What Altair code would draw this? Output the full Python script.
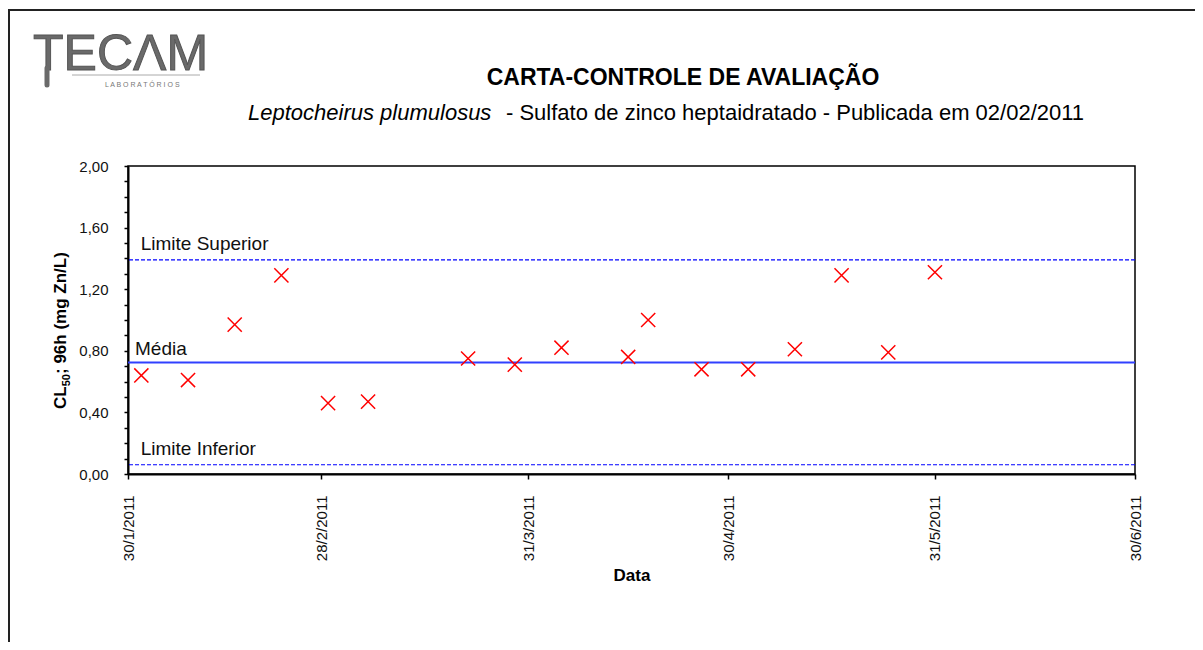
import altair as alt
import pandas as pd

# ---------------- data ----------------
sample_dates = ["2011-02-01", "2011-02-08", "2011-02-15", "2011-02-22", "2011-03-01",
                "2011-03-07", "2011-03-22", "2011-03-29", "2011-04-05", "2011-04-15",
                "2011-04-18", "2011-04-26", "2011-05-03", "2011-05-10", "2011-05-17",
                "2011-05-24", "2011-05-31"]
cl50_values = [0.64, 0.61, 0.97, 1.29, 0.46, 0.47, 0.75, 0.71, 0.82, 0.76,
               1.00, 0.68, 0.68, 0.81, 1.29, 0.79, 1.31]

limit_labels = ["Limite Superior", "Média", "Limite Inferior"]
limit_values = [1.39, 0.724, 0.06]

x_tick_dates = [(2011, 1, 30), (2011, 2, 28), (2011, 3, 31), (2011, 4, 30), (2011, 5, 31), (2011, 6, 30)]
y_tick_values = [0.0, 0.1, 0.2, 0.3, 0.4, 0.5, 0.6, 0.7, 0.8, 0.9, 1.0,
                 1.1, 1.2, 1.3, 1.4, 1.5, 1.6, 1.7, 1.8, 1.9, 2.0]

title_text = "CARTA-CONTROLE DE  AVALIAÇÃO"
subtitle_species = "Leptocheirus plumulosus"
subtitle_rest = "- Sulfato de zinco heptaidratado  - Publicada  em 02/02/2011"
y_title_parts = ["CL", "50", "; 96h (mg Zn/L)"]
x_title = "Data"
logo_text = "TECΛM"
logo_sub = "L A B O R A T Ó R I O S"

# ---------------- layout ----------------
W, H = 1007, 308
PAD_L, PAD_T, PAD_R, PAD_B = 120, 158, 60, 168
FONT = "Liberation Sans"

points_df = pd.DataFrame({"Data": sample_dates, "CL50": cl50_values})
limits_df = pd.DataFrame({"nome": limit_labels, "valor": limit_values})
one = pd.DataFrame({"k": [0]})


def dt(t):
    return alt.DateTime(year=t[0], month=t[1], date=t[2], utc=True)


x_scale = alt.Scale(type="utc", domain=[dt(x_tick_dates[0]), dt(x_tick_dates[-1])])
y_scale = alt.Scale(domain=[0, 2], nice=False, zero=False)

y_axis = alt.Axis(
    values=y_tick_values,
    labelExpr="(round(datum.value*10) % 4 == 0) ? replace(format(datum.value, '.2f'), '.', ',') : ''",
    title=None, grid=False, tickSize=4, tickColor="black", tickWidth=1.5,
    domainColor="black", domainWidth=2, labelFont=FONT, labelFontSize=15,
    labelColor="#111", labelPadding=16, labelOverlap=False, labelFlush=False,
)
x_axis = alt.Axis(
    values=[dt(t) for t in x_tick_dates],
    labelExpr="utcFormat(datum.value, '%-d/%-m/%Y')",
    labelAngle=270, labelAlign="right", labelBaseline="middle",
    title=x_title, titleFont=FONT, titleFontSize=17, titleFontWeight="bold",
    titleColor="black", titlePadding=7,
    grid=False, tickSize=5, tickColor="black", tickWidth=1.5,
    domainColor="black", domainWidth=2, labelFont=FONT, labelFontSize=15,
    labelColor="#111", labelPadding=16, labelOverlap=False, labelFlush=False,
)


def Y(field):
    return alt.Y(field, scale=y_scale, axis=y_axis)


# outer frame (only left and top edges are visible in the page), kept inside the svg
frame_left = alt.Chart(one).mark_rule(color="#222", strokeWidth=2).encode(
    x=alt.value(-119), y=alt.value(-157), y2=alt.value(H + PAD_B))
frame_top = alt.Chart(one).mark_rule(color="#222", strokeWidth=2).encode(
    x=alt.value(-120), x2=alt.value(W + PAD_R), y=alt.value(-156))

# logo
logo = alt.Chart(one).mark_text(text=logo_text, font=FONT, fontSize=50, color="#6a6a6a",
                                stroke="#555", strokeWidth=1, align="left",
                                baseline="alphabetic").encode(
    x=alt.value(-95), y=alt.value(-96))
logo_stem = alt.Chart(one).mark_rule(color="#6a6a6a", strokeWidth=5, strokeCap="round").encode(
    x=alt.value(-81), y=alt.value(-98), y2=alt.value(-81))
logo_line = alt.Chart(one).mark_rule(color="#aaa", strokeWidth=1).encode(
    x=alt.value(-56), x2=alt.value(72), y=alt.value(-91))
logo_small = alt.Chart(one).mark_text(text=logo_sub, font=FONT, fontSize=7, color="#777",
                                      align="left", baseline="alphabetic").encode(
    x=alt.value(-23), y=alt.value(-79))

# titles
title = alt.Chart(one).mark_text(text=title_text, font=FONT, fontSize=23, fontWeight="bold",
                                 color="black", align="center", baseline="alphabetic").encode(
    x=alt.value(555), y=alt.value(-81))
sub1 = alt.Chart(one).mark_text(text=subtitle_species, font=FONT, fontSize=22, fontStyle="italic",
                                color="black", align="left", baseline="alphabetic").encode(
    x=alt.value(248 - 128), y=alt.value(-46))
sub2 = alt.Chart(one).mark_text(text=subtitle_rest, font=FONT, fontSize=22,
                                color="black", align="left", baseline="alphabetic").encode(
    x=alt.value(506 - 128), y=alt.value(-46))

# y axis title with subscript
yt1 = alt.Chart(one).mark_text(text=y_title_parts[0], font=FONT, fontSize=17, fontWeight="bold",
                               angle=270, align="left", baseline="alphabetic", color="black").encode(
    x=alt.value(-62), y=alt.value(243))
yt2 = alt.Chart(one).mark_text(text=y_title_parts[1], font=FONT, fontSize=11, fontWeight="bold",
                               angle=270, align="left", baseline="alphabetic", color="black").encode(
    x=alt.value(-58.5), y=alt.value(243 - 22.7))
yt3 = alt.Chart(one).mark_text(text=y_title_parts[2], font=FONT, fontSize=17, fontWeight="bold",
                               angle=270, align="left", baseline="alphabetic", color="black").encode(
    x=alt.value(-62), y=alt.value(243 - 22.7 - 12.3))

# control lines
dashed = alt.Chart(limits_df).transform_filter(alt.datum.nome != "Média").mark_rule(
    color="#0000FF", strokeWidth=1.2, strokeDash=[4, 2]).encode(y=Y("valor:Q"))
mean_line = alt.Chart(limits_df).transform_filter(alt.datum.nome == "Média").mark_rule(
    color="#3040FF", strokeWidth=2).encode(y=Y("valor:Q"))


def limit_label(name, xpos, dy):
    return alt.Chart(limits_df).transform_filter(alt.datum.nome == name).mark_text(
        font=FONT, fontSize=19, color="#111", align="left", baseline="alphabetic", dy=dy
    ).encode(x=alt.value(xpos), y=Y("valor:Q"), text="nome:N")


lab_sup = limit_label("Limite Superior", 12.7, -10)
lab_med = limit_label("Média", 7, -8)
lab_inf = limit_label("Limite Inferior", 12.7, -10)

# data points
points = alt.Chart(points_df).mark_point(
    shape="M-1,-1L1,1M-1,1L1,-1", size=200, filled=False, color="#FF0000",
    strokeWidth=1.5, opacity=1
).encode(
    x=alt.X("Data:T", scale=x_scale, axis=x_axis),
    y=Y("CL50:Q"),
)

chart = alt.layer(
    frame_left, frame_top, logo, logo_stem, logo_line, logo_small, title, sub1, sub2,
    yt1, yt2, yt3, dashed, mean_line, lab_sup, lab_med, lab_inf, points
).properties(
    width=W, height=H,
    autosize=alt.AutoSizeParams(type="none"),
    padding={"left": PAD_L, "top": PAD_T, "right": PAD_R, "bottom": PAD_B},
    background="white",
).configure_view(stroke="black", strokeWidth=1.5)

chart.save("out.html", embed_options={"renderer": "svg", "actions": False})
